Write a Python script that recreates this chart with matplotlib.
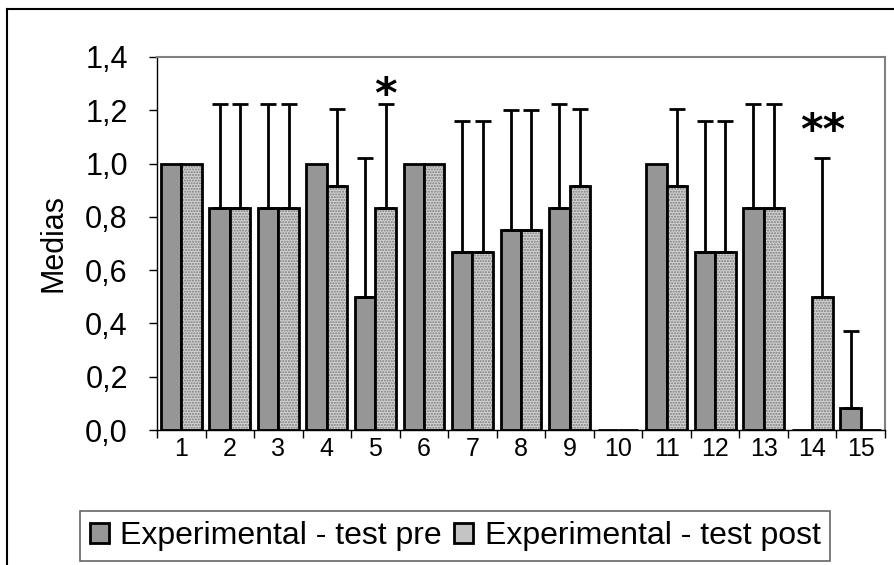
import numpy as np
import matplotlib.pyplot as plt
from matplotlib.patches import Rectangle

plt.rcParams['font.family'] = ['Liberation Sans', 'DejaVu Sans']

items = [str(i) for i in range(1, 16)]
pre_mean = [1.0, 0.833, 0.833, 1.0, 0.5, 1.0, 0.667, 0.75, 0.833, 0.0, 1.0, 0.667, 0.833, 0.0, 0.083]
pre_sd = [0.0, 0.389, 0.389, 0.0, 0.522, 0.0, 0.492, 0.452, 0.389, 0.0, 0.0, 0.492, 0.389, 0.0, 0.289]
post_mean = [1.0, 0.833, 0.833, 0.917, 0.833, 1.0, 0.667, 0.75, 0.917, 0.0, 0.917, 0.667, 0.833, 0.5, 0.0]
post_sd = [0.0, 0.389, 0.389, 0.289, 0.389, 0.0, 0.492, 0.452, 0.289, 0.0, 0.289, 0.492, 0.389, 0.522, 0.0]
signif = {5: '*', 14: '**'}
yticks = [0.0, 0.2, 0.4, 0.6, 0.8, 1.0, 1.2, 1.4]

# height of the significance stars above the error bar tip
star_gap = {5: 0.03, 14: 0.095}

fig = plt.figure(figsize=(8.94, 5.65), dpi=100)
ax = fig.add_axes([157 / 894, 1 - 430 / 565, (885 - 157) / 894, (430 - 57) / 565])

x = np.arange(len(items))
w = 0.42
pre_col = '#969696'
post_col = '#d2d2d2'

ax.bar(x - w / 2, pre_mean, w, color=pre_col, edgecolor='black', linewidth=2, zorder=2)
# dotted fill for the post bars, then the black outline on top
ax.bar(x + w / 2, post_mean, w, color=post_col, edgecolor='#7a7a7a', hatch='......', linewidth=0, zorder=2)
ax.bar(x + w / 2, post_mean, w, fill=False, edgecolor='black', linewidth=2, zorder=3)

for xs, m, s in [(x - w / 2, pre_mean, pre_sd), (x + w / 2, post_mean, post_sd)]:
    m = np.array(m)
    s = np.array(s)
    keep = s > 0
    ax.errorbar(xs[keep], m[keep], yerr=[np.zeros(keep.sum()), s[keep]], fmt='none',
                ecolor='black', elinewidth=2, capsize=6, capthick=2, zorder=4)

for i, txt in signif.items():
    k = i - 1
    top = post_mean[k] + post_sd[k]
    ax.text(x[k] + w / 2, top + star_gap[i], txt, ha='center', va='center', fontsize=31,
            fontweight='bold', family='DejaVu Sans')

ax.set_xlim(-0.5, len(items) - 0.5)
ax.set_ylim(0, 1.4)
ax.set_yticks(yticks)
ax.set_yticklabels([('%.1f' % v).replace('.', ',') for v in yticks], fontsize=22)
ax.set_xticks(x)
ax.set_xticklabels(items, fontsize=18)
ax.set_xticks(np.arange(len(items) + 1) - 0.5, minor=True)
ax.tick_params(axis='x', which='major', length=0, pad=5)
ax.tick_params(axis='x', which='minor', length=6, width=1, direction='out')
ax.tick_params(axis='y', length=6, width=1, direction='out', pad=15)
ax.set_ylabel('Medias', fontsize=22, labelpad=12)

for side in ['left', 'bottom']:
    ax.spines[side].set_color('black')
    ax.spines[side].set_linewidth(1)
for side in ['top', 'right']:
    ax.spines[side].set_color('#808080')
    ax.spines[side].set_linewidth(1.5)

# legend box at the bottom
pre_patch = Rectangle((0, 0), 1, 1, facecolor=pre_col, edgecolor='black', linewidth=2)
post_patch = Rectangle((0, 0), 1, 1, facecolor='#c4c4c4', edgecolor='black', linewidth=2)
leg = fig.legend([pre_patch, post_patch], ['Experimental - test pre', 'Experimental - test post'],
                 loc='center', bbox_to_anchor=(455 / 894, 1 - 536 / 565), ncol=2, fontsize=23,
                 frameon=True, fancybox=False, handlelength=0.6, handleheight=0.6,
                 handletextpad=0.35, columnspacing=0.4, borderpad=0.3, borderaxespad=0)
leg.get_frame().set_edgecolor('#404040')
leg.get_frame().set_linewidth(1.2)

# outer chart border (top and left visible)
fig.add_artist(plt.Line2D([7 / 894, 7 / 894], [0, 1 - 9 / 565], transform=fig.transFigure,
                          color='black', linewidth=1.5))
fig.add_artist(plt.Line2D([7 / 894, 1], [1 - 9 / 565, 1 - 9 / 565], transform=fig.transFigure,
                          color='black', linewidth=1.5))

fig.savefig('out.png', dpi=100)
